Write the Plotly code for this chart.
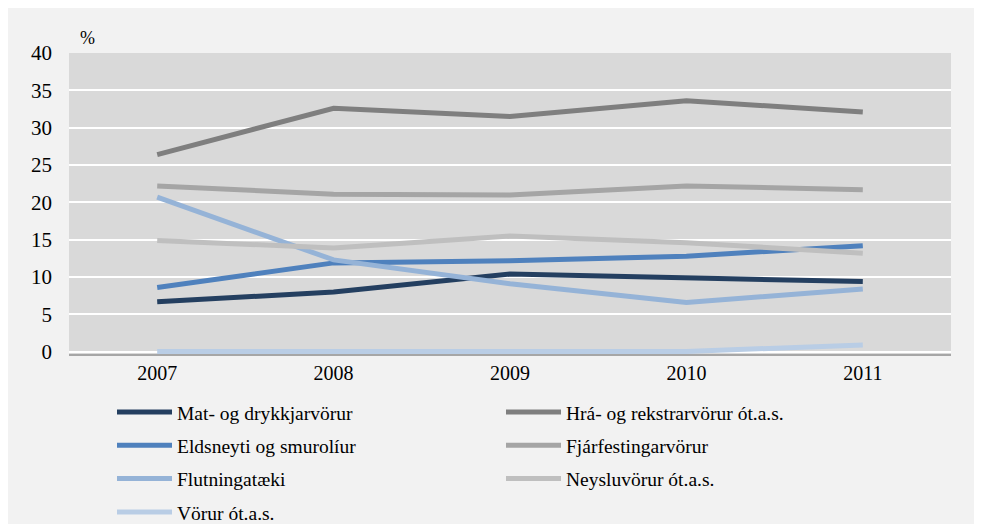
import plotly.graph_objects as go

years = ["2007", "2008", "2009", "2010", "2011"]

mat = [6.7, 8.0, 10.4, 9.9, 9.4]
hra = [26.4, 32.6, 31.5, 33.6, 32.1]
eldsneyti = [8.6, 11.9, 12.2, 12.8, 14.2]
fjarfesting = [22.2, 21.1, 21.0, 22.2, 21.7]
flutningataeki = [20.7, 12.3, 9.1, 6.6, 8.4]
neysluvorur = [14.9, 13.9, 15.5, 14.6, 13.2]
vorur = [0.05, 0.05, 0.05, 0.05, 0.9]

y_ticks = [0, 5, 10, 15, 20, 25, 30, 35, 40]

FONT = "Liberation Serif"

series = [
    ("Mat- og drykkjarvörur", mat, "#243f60", "legend"),
    ("Hrá- og rekstrarvörur ót.a.s.", hra, "#7f7f7f", "legend2"),
    ("Eldsneyti og smurolíur", eldsneyti, "#4f81bd", "legend"),
    ("Fjárfestingarvörur", fjarfesting, "#a5a5a5", "legend2"),
    ("Flutningatæki", flutningataeki, "#95b3d7", "legend"),
    ("Neysluvörur ót.a.s.", neysluvorur, "#bfbfbf", "legend2"),
    ("Vörur ót.a.s.", vorur, "#b9cde5", "legend"),
]

fig = go.Figure()
for i, (name, vals, color, leg) in enumerate(series):
    fig.add_trace(go.Scatter(
        x=years, y=vals, name=name, mode="lines",
        line=dict(color=color, width=5),
        legend=leg, legendgroup=f"g{i}",
    ))

OFF = 8  # page body margin offset
W, H = 982 - OFF, 532 - 2 * OFF
L, T = 69 - OFF, 53 - OFF
R = W - (951 - OFF)
ymin = -0.3
px_per_unit = 299 / 40
plot_h = (40 - ymin) * px_per_unit
B = H - T - plot_h
plot_w = W - L - R

def px_to_paper_x(px):
    return (px - OFF - L) / plot_w

def px_to_paper_y(py):
    return (T + plot_h - (py - OFF)) / plot_h

fig.update_layout(
    width=W, height=H,
    margin=dict(l=L, r=R, t=T, b=B, autoexpand=False),
    paper_bgcolor="#f2f2f2",
    plot_bgcolor="#d9d9d9",
    font=dict(family=FONT, size=19.5, color="black"),
    showlegend=True,
    legend=dict(
        x=px_to_paper_x(112), y=px_to_paper_y(393), xanchor="left", yanchor="top",
        orientation="v", bgcolor="rgba(0,0,0,0)", itemwidth=55,
        tracegroupgap=5, font=dict(family=FONT, size=19.5),
        itemclick=False, itemdoubleclick=False,
    ),
    legend2=dict(
        x=px_to_paper_x(501), y=px_to_paper_y(393), xanchor="left", yanchor="top",
        orientation="v", bgcolor="rgba(0,0,0,0)", itemwidth=55,
        tracegroupgap=5, font=dict(family=FONT, size=19.5),
        itemclick=False, itemdoubleclick=False,
    ),
    xaxis=dict(
        type="category", range=[-0.5, 4.5],
        showgrid=False, showline=True, linecolor="#a6a6a6", linewidth=1.5,
        ticks="", tickfont=dict(family=FONT, size=20),
        ticklabelstandoff=0,
    ),
    yaxis=dict(
        range=[ymin, 40], tickvals=y_ticks,
        showgrid=True, gridcolor="white", gridwidth=2,
        zeroline=False, showline=False, ticks="",
        tickfont=dict(family=FONT, size=21),
        ticklabelstandoff=16,
    ),
    annotations=[dict(
        text="%", xref="paper", yref="paper",
        x=px_to_paper_x(87), y=px_to_paper_y(38),
        xanchor="center", yanchor="middle",
        showarrow=False, font=dict(family=FONT, size=18),
    )],
)

fig.write_html("out.html")
